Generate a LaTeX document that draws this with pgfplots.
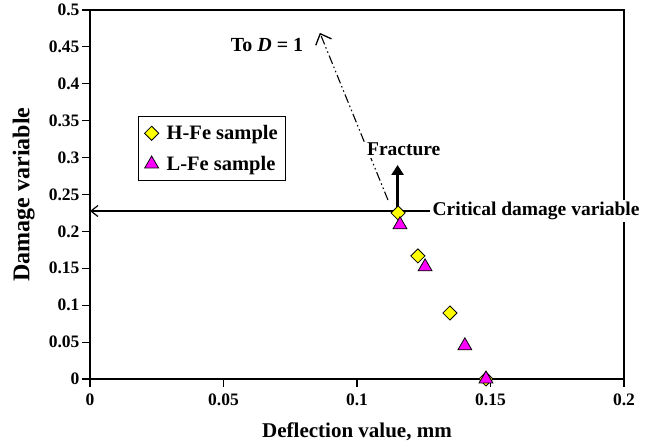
\documentclass[border=0pt]{standalone}
\usepackage{fontspec}
\setmainfont{Liberation Serif}
\usepackage{pgfplots}
\pgfplotsset{compat=1.18}
\usetikzlibrary{arrows.meta}
\definecolor{myyellow}{RGB}{255,255,0}
\definecolor{mymag}{RGB}{255,0,255}
\begin{document}
\begin{tikzpicture}[x=1pt,y=1pt]
\path[use as bounding box] (0,0) rectangle (655,446);
\begin{axis}[
  at={(90pt,67pt)}, anchor=south west,
  scale only axis, width=534pt, height=369pt,
  xmin=0, xmax=0.2, ymin=0, ymax=0.5,
  clip=false,
  axis line style={line width=1.1pt},
  xtick={0,0.05,0.1,0.15,0.2},
  xticklabels={0,0.05,0.1,0.15,0.2},
  ytick={0,0.05,0.1,0.15,0.2,0.25,0.3,0.35,0.4,0.45,0.5},
  yticklabels={0,0.05,0.1,0.15,0.2,0.25,0.3,0.35,0.4,0.45,0.5},
  tick style={line width=1.1pt, black},
  xtick pos=bottom, ytick pos=left,
  tick align=outside, major tick length=8pt,
  ticklabel style={font=\fontsize{17.5}{20}\selectfont\bfseries},
  xticklabel style={yshift=-3pt},
  yticklabel style={xshift=1pt},
  xlabel={Deflection value, mm},
  ylabel={Damage variable},
  xlabel style={at={(axis description cs:0.5,-0.142)}, anchor=center, font=\fontsize{21}{24}\selectfont\bfseries},
  ylabel style={at={(axis description cs:-0.124,0.5)}, anchor=center, font=\fontsize{24}{28}\selectfont\bfseries},
  legend style={at={(axis description cs:0.09,0.713)}, anchor=north west,
    draw=black, line width=1pt, font=\fontsize{20.5}{23}\selectfont\bfseries,
    inner xsep=6pt, inner ysep=7pt, row sep=11pt, column sep=6pt},
  legend cell align=left,
  legend image code/.code={\draw[#1] plot coordinates {(0.25cm,0cm)};},
]
% critical damage line
\draw[line width=1.2pt, -{Straight Barb[length=7pt,width=11pt,line width=1.2pt]}] (axis cs:0.1275,0.2276) -- (axis cs:0,0.2276);
\node[anchor=west, fill=white, inner sep=2pt, font=\fontsize{19.5}{22}\selectfont\bfseries] at (axis cs:0.1275,0.2276) {Critical damage variable};
% dash-dot-dot line to D=1
\draw[line width=1.1pt, dash pattern=on 9pt off 3pt on 1.5pt off 3pt on 1.5pt off 3pt,
  -{Straight Barb[length=9pt,width=17pt,line width=1.3pt]}] (axis cs:0.1116,0.2425) -- (axis cs:0.0861,0.469);
% fracture arrow
\draw[line width=3.5pt, -{Triangle[length=10pt,width=12pt]}] (axis cs:0.1152,0.2276) -- (axis cs:0.1152,0.29);
\node[fill=white, inner sep=2pt, font=\fontsize{19.5}{22}\selectfont\bfseries] at (axis cs:0.1175,0.311) {Fracture};
\node[font=\fontsize{20}{23}\selectfont\bfseries] at (axis cs:0.0663,0.4526) {To \textit{D} = 1};
\addplot[only marks, mark=square*, mark size=5pt, mark options={rotate=45, fill=myyellow, draw=black, line width=0.8pt}]
  coordinates {(0.1154,0.225) (0.1228,0.1667) (0.1348,0.0894) (0.1483,0)};
\addlegendentry{H-Fe sample}
\addplot[only marks, mark=triangle*, mark size=8pt, mark options={fill=mymag, draw=black, line width=0.8pt}]
  coordinates {(0.1161,0.209) (0.1255,0.152) (0.1404,0.045) (0.1483,0)};
\addlegendentry{L-Fe sample}
\end{axis}
\end{tikzpicture}
\end{document}
